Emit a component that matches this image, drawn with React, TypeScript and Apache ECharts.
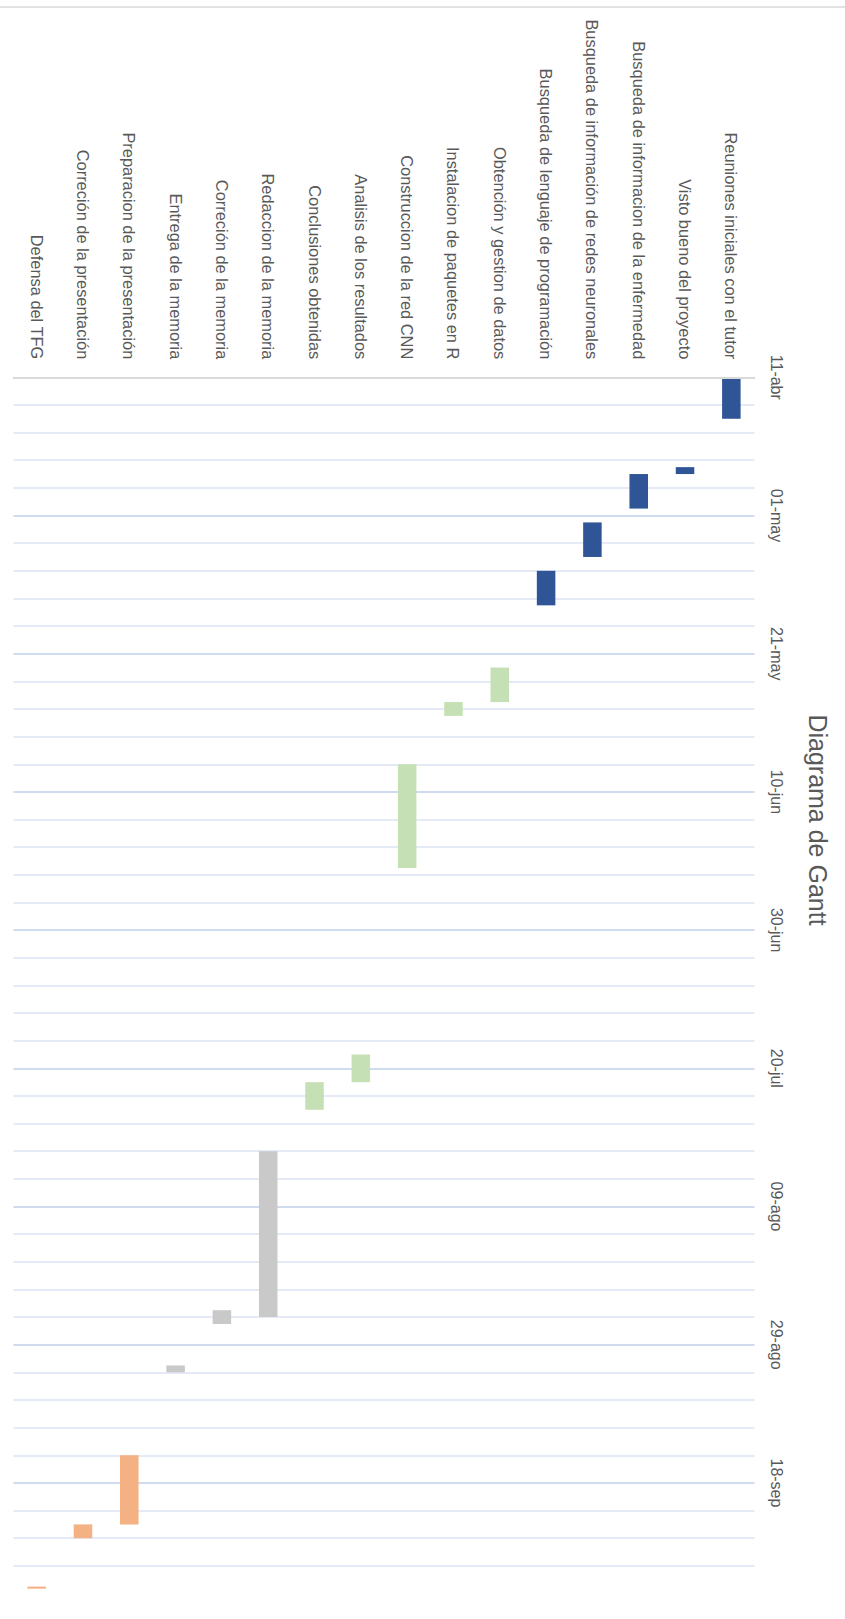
import React, { useEffect, useRef } from "react";
import * as echarts from "echarts";

const TASKS = [
  "Reuniones iniciales con el tutor",
  "Visto bueno del proyecto",
  "Busqueda de informacion de la enfermedad",
  "Busqueda de información de redes neuronales",
  "Busqueda de lenguaje de programación",
  "Obtención y gestion de datos",
  "Instalacion de paquetes en R",
  "Construccion de la red CNN",
  "Analisis de los resultados",
  "Conclusiones obtenidas",
  "Redaccion de la memoria",
  "Correción de la memoria",
  "Entrega de la memoria",
  "Preparacion de la presentación",
  "Correción de la presentación",
  "Defensa del TFG",
];

const START_DATES = [
  "2019-04-11", "2019-04-24", "2019-04-25", "2019-05-02", "2019-05-09",
  "2019-05-23", "2019-05-28", "2019-06-06", "2019-07-18", "2019-07-22",
  "2019-08-01", "2019-08-24", "2019-09-01", "2019-09-14", "2019-09-24",
  "2019-10-03",
];

const DURATIONS = [6, 1, 5, 5, 5, 5, 2, 15, 4, 4, 24, 2, 1, 10, 2, 0.3];

const PHASES = [
  "plan", "plan", "plan", "plan", "plan",
  "dev", "dev", "dev", "dev", "dev",
  "doc", "doc", "doc",
  "def", "def", "def",
];

const PHASE_COLORS: Record<string, string> = {
  plan: "#2F5597",
  dev: "#C5E0B4",
  doc: "#C9C9C9",
  def: "#F4B183",
};

const AXIS_START = "2019-04-11";
const AXIS_DAYS = 176;
const MAJOR_STEP = 20;
const MINOR_STEP = 4;
const MONTHS = ["ene", "feb", "mar", "abr", "may", "jun", "jul", "ago", "sep", "oct", "nov", "dic"];

const DAY_MS = 86400000;
const baseMs = Date.parse(AXIS_START + "T00:00:00Z");

function dayOffset(iso: string): number {
  return Math.round((Date.parse(iso + "T00:00:00Z") - baseMs) / DAY_MS);
}

function fmtDay(v: number): string {
  if (v % MAJOR_STEP !== 0 || v >= AXIS_DAYS) return "";
  const d = new Date(baseMs + v * DAY_MS);
  const dd = String(d.getUTCDate()).padStart(2, "0");
  return dd + "-" + MONTHS[d.getUTCMonth()];
}

export default function App() {
  const ref = useRef<HTMLDivElement>(null);

  useEffect(() => {
    document.body.style.margin = "0";
    if (!ref.current) return;
    const chart = echarts.init(ref.current, undefined, { renderer: "svg" });

    const offsets = START_DATES.map(dayOffset);
    const majorColor = "#BFCFEA";
    const minorColor = "#DCE4F3";
    const lineColors = [majorColor];
    for (let i = 1; i < MAJOR_STEP / MINOR_STEP; i++) lineColors.push(minorColor);

    const option: any = {
      animation: false,
      backgroundColor: "#ffffff",
      grid: { left: 13.5, right: 90.5, top: 377.3, bottom: 25.5, containLabel: false },
      xAxis: {
        type: "category",
        data: TASKS,
        inverse: true,
        position: "top",
        z: 5,
        axisLine: { show: true, onZero: false, lineStyle: { color: "#D9D9D9", width: 2 } },
        axisTick: { show: false },
        splitLine: { show: false },
        axisLabel: {
          interval: 0,
          rotate: 90,
          margin: 18,
          color: "#595959",
          fontSize: 16.4,
          fontFamily: "Liberation Sans",
        },
      },
      yAxis: {
        type: "value",
        inverse: true,
        position: "right",
        min: 0,
        max: AXIS_DAYS,
        interval: MINOR_STEP,
        axisLine: { show: false },
        axisTick: { show: false },
        axisLabel: {
          rotate: -90,
          margin: 14,
          color: "#595959",
          fontSize: 16,
          fontFamily: "Liberation Sans",
          formatter: (v: number) => fmtDay(v),
        },
        splitLine: {
          show: true,
          showMinLine: true,
          showMaxLine: false,
          lineStyle: { color: lineColors, width: 1.5 },
        },
      },
      series: [
        {
          type: "bar",
          name: "Inicio",
          stack: "gantt",
          silent: true,
          itemStyle: { color: "transparent" },
          barCategoryGap: "60%",
          data: offsets,
        },
        {
          type: "bar",
          name: "Duración",
          stack: "gantt",
          barCategoryGap: "60%",
          data: DURATIONS.map((d, i) => ({
            value: d,
            itemStyle: { color: PHASE_COLORS[PHASES[i]] },
          })),
        },
      ],
      graphic: [
        {
          type: "line",
          shape: { x1: 0, y1: 7, x2: 845, y2: 7 },
          style: { stroke: "#D9D9D9", lineWidth: 1.5 },
        },
        {
          type: "text",
          x: 818,
          y: 820,
          rotation: -Math.PI / 2,
          style: {
            text: "Diagrama de Gantt",
            fill: "#595959",
            font: "25px 'Liberation Sans'",
            textAlign: "center",
            textVerticalAlign: "middle",
          },
        },
      ],
    };

    chart.setOption(option);
    return () => chart.dispose();
  }, []);

  return <div ref={ref} style={{ width: 845, height: 1619 }} />;
}
